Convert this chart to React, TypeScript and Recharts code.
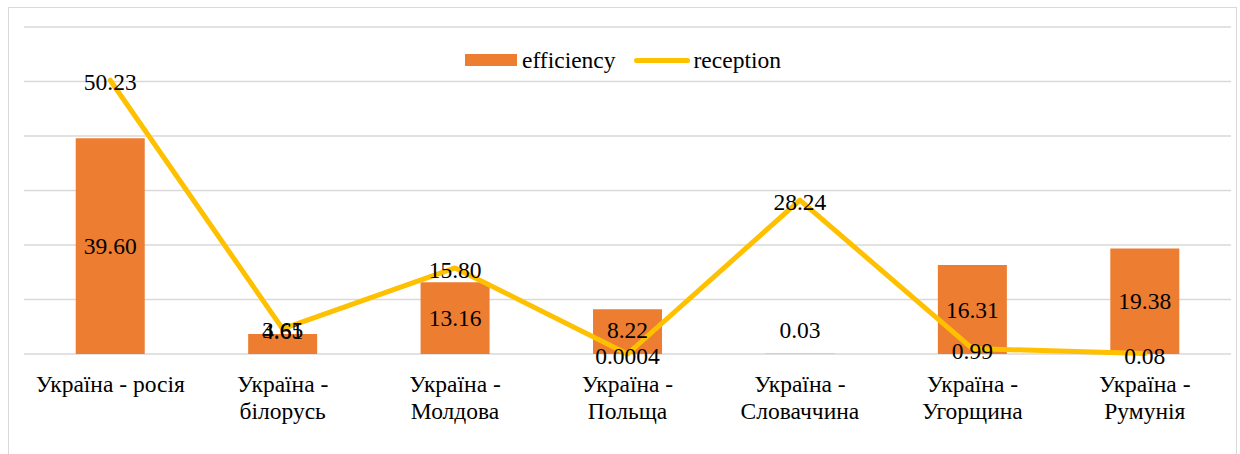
import React from 'react';
import { ComposedChart, Bar, Line, XAxis, YAxis, CartesianGrid, LabelList, Legend } from 'recharts';

const categories = [
  'Україна - росія',
  'Україна - білорусь',
  'Україна - Молдова',
  'Україна - Польща',
  'Україна - Словаччина',
  'Україна - Угорщина',
  'Україна - Румунія',
];
const efficiency = [39.6, 3.65, 13.16, 8.22, 0.03, 16.31, 19.38];
const reception = [50.23, 4.61, 15.8, 0.0004, 28.24, 0.99, 0.08];
const yTicks = [0, 10, 20, 30, 40, 50, 60];

const data = categories.map((c, i) => ({ name: c, efficiency: efficiency[i], reception: reception[i] }));

const FONT = "'Liberation Serif', 'Times New Roman', serif";
const FS = 23.5;
const BAR_COLOR = '#ED7D31';
const LINE_COLOR = '#FFC000';

const fmt = (v: number) => (v < 0.01 ? String(v) : v.toFixed(2));

const BarLabel = (props: any) => {
  const { x, y, width, height, value } = props;
  const cx = x + width / 2;
  const base = y + height;
  const cy = Math.min(y + height / 2, base - 24);
  return (
    <text x={cx} y={cy} textAnchor="middle" dominantBaseline="central" fontFamily={FONT} fontSize={FS} fill="#000">
      {fmt(value)}
    </text>
  );
};

const LineLabel = (props: any) => {
  const { x, y, value } = props;
  return (
    <text x={x} y={y + 2} textAnchor="middle" dominantBaseline="central" fontFamily={FONT} fontSize={FS} fill="#000">
      {fmt(value)}
    </text>
  );
};

const wrapLabel = (s: string): string[] => {
  if (s.length <= 15) return [s];
  const idx = s.indexOf(' - ');
  if (idx < 0) return [s];
  return [s.slice(0, idx + 2), s.slice(idx + 3)];
};

const AxisTick = (props: any) => {
  const { x, y, payload } = props;
  const lines = wrapLabel(String(payload.value));
  return (
    <text x={x} y={y + 30} textAnchor="middle" fontFamily={FONT} fontSize={FS} fill="#000">
      {lines.map((l, i) => (
        <tspan key={i} x={x} dy={i === 0 ? 0 : 27}>
          {l}
        </tspan>
      ))}
    </text>
  );
};

const LegendContent = () => (
  <div
    style={{
      display: 'flex',
      justifyContent: 'center',
      alignItems: 'center',
      fontFamily: FONT,
      fontSize: FS,
      color: '#000',
      height: 30,
      paddingRight: 9,
    }}
  >
    <span style={{ display: 'inline-block', width: 52, height: 12, background: BAR_COLOR, marginRight: 5 }} />
    <span style={{ marginRight: 18 }}>efficiency</span>
    <span style={{ display: 'inline-block', width: 56, height: 5, borderRadius: 3, background: LINE_COLOR, marginRight: 4 }} />
    <span>reception</span>
  </div>
);

export default function App() {
  return (
    <div
      style={{
        position: 'absolute',
        left: 0,
        top: 0,
        width: 1240,
        height: 454,
        overflow: 'hidden',
        background: '#fff',
        fontFamily: FONT,
      }}
    >
      <div
        style={{
          position: 'absolute',
          left: 8,
          top: 7,
          width: 1229,
          height: 470,
          border: '1px solid #D9D9D9',
          boxSizing: 'border-box',
        }}
      />
      <div style={{ position: 'absolute', left: 0, top: 0 }}>
        <ComposedChart
          width={1240}
          height={454}
          data={data}
          margin={{ top: 27, right: 9, left: 24, bottom: 0 }}
          barCategoryGap="30%"
        >
          <CartesianGrid horizontal vertical={false} stroke="#D9D9D9" strokeWidth={1.5} />
          <XAxis dataKey="name" axisLine={false} tickLine={false} interval={0} tick={<AxisTick />} height={100} />
          <YAxis domain={[0, 60]} ticks={yTicks} hide />
          <Legend verticalAlign="middle" content={<LegendContent />} wrapperStyle={{ top: 45 }} />
          <Bar dataKey="efficiency" fill={BAR_COLOR} isAnimationActive={false}>
            <LabelList dataKey="efficiency" content={<BarLabel />} />
          </Bar>
          <Line
            dataKey="reception"
            stroke={LINE_COLOR}
            strokeWidth={5}
            dot={false}
            activeDot={false}
            strokeLinejoin="round"
            strokeLinecap="round"
            type="linear"
            isAnimationActive={false}
          >
            <LabelList dataKey="reception" content={<LineLabel />} />
          </Line>
        </ComposedChart>
      </div>
    </div>
  );
}
